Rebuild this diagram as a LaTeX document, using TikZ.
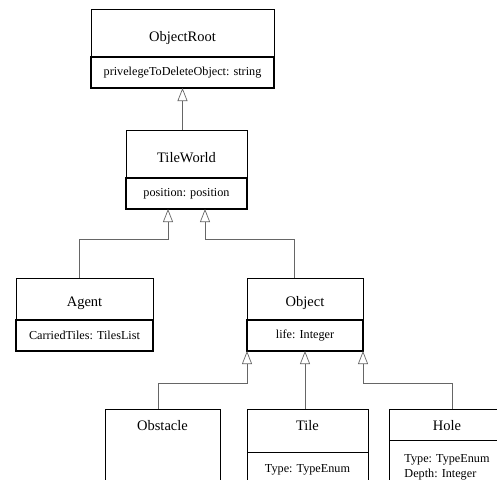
\documentclass[tikz,border=0pt]{standalone}
\usepackage{fontspec}
\setmainfont{Liberation Serif}
\usetikzlibrary{positioning}
\usetikzlibrary{arrows.meta}

\begin{document}
\begin{tikzpicture}
[
x=1pt, y=-1pt,
class-t/.style={draw, line width=0.6pt, inner sep=0pt, outer sep=0pt, anchor=north west, font=\fontsize{14.5}{17}\selectfont},
class-a/.style={draw, line width=1.1pt, inner sep=0pt, outer sep=0pt, minimum height=31pt, font=\fontsize{12.2}{17}\selectfont},
class-l/.style={draw, line width=0.6pt, inner sep=0pt, outer sep=0pt, align=left, font=\fontsize{12.2}{14.5}\selectfont},
link-g/.style={draw=black!60, line width=0.9pt, -{Triangle[open, length=13pt, width=10pt, line width=0.7pt]}},
]
\clip (0,0) rectangle (497,479);
% classes
\node (rootT)  [class-t, minimum width=183pt, text height=32pt, text depth=16pt] at (91,9)    {ObjectRoot};
\node (rootA)  [class-a, minimum width=183pt, below = 0pt of rootT]                           {privelegeToDeleteObject: string};
\node (worldT) [class-t, minimum width=121pt, text height=32pt, text depth=16pt] at (126,130) {TileWorld};
\node (worldA) [class-a, minimum width=121pt, below = 0pt of worldT]                          {position: position};
\node (agentT) [class-t, minimum width=137pt, text height=28pt, text depth=14pt] at (16,278)  {Agent};
\node (agentA) [class-a, minimum width=137pt, below = 0pt of agentT]                          {CarriedTiles: TilesList};
\node (objT)   [class-t, minimum width=116pt, text height=28pt, text depth=14pt] at (247,278) {Object};
\node (objA)   [class-a, minimum width=116pt, below = 0pt of objT]                            {life: Integer};
\node (obstT)  [class-t, minimum width=115pt, text height=21pt, text depth=90pt] at (105,409) {Obstacle};
\node (tileT)  [class-t, minimum width=121pt, text height=21pt, text depth=22pt] at (247,409) {Tile};
\node (tileA)  [class-l, minimum width=121pt, minimum height=36pt, below = 0pt of tileT]      {Type: TypeEnum};
\node (holeT)  [class-t, minimum width=116pt, text height=21pt, text depth=10pt] at (389,409) {Hole};
\node (holeA)  [class-l, minimum width=116pt, minimum height=55pt, below = 0pt of holeT]      {Type: TypeEnum\\Depth: Integer};
% generalizations
\draw [link-g] ([xshift=-4pt]worldT.north) -- (rootA.south);
\draw [link-g] ([xshift=-5.5pt]agentT.north) -- ++(0,-39) -| ([xshift=-18.5pt]worldA.south);
\draw [link-g] ([xshift=-11pt]objT.north) -- ++(0,-39) -| ([xshift=18.5pt]worldA.south);
\draw [link-g] ([xshift=-4.5pt]obstT.north) -- ++(0,-26) -| (objA.south west);
\draw [link-g] (objA.south |- tileT.north) -- (objA.south);
\draw [link-g] ([xshift=5pt]holeT.north) -- ++(0,-26) -| (objA.south east);
\end{tikzpicture}
\end{document}
